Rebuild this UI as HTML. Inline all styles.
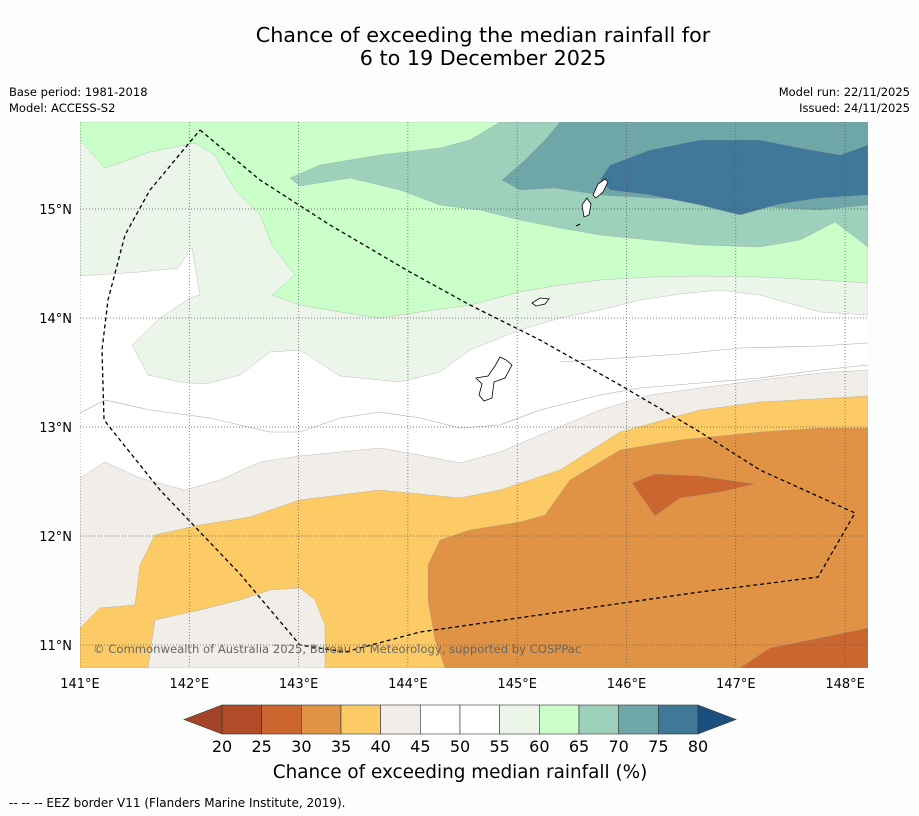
<!DOCTYPE html>
<html><head><meta charset="utf-8"><style>
body{margin:0;background:#fdfdfd;font-family:"DejaVu Sans","Liberation Sans",sans-serif;}
svg{display:block;font-family:"DejaVu Sans","Liberation Sans",sans-serif;}
</style></head><body>
<svg width="919" height="816" viewBox="0 0 919 816">
<rect width="919" height="816" fill="#fdfdfd"/>
<text x="483" y="42" text-anchor="middle" font-size="20.7" fill="#000">Chance of exceeding the median rainfall for</text>
<text x="483" y="65" text-anchor="middle" font-size="20.7" fill="#000">6 to 19 December 2025</text>
<text x="9" y="96" font-size="11.5">Base period: 1981-2018</text>
<text x="9" y="112" font-size="11.5">Model: ACCESS-S2</text>
<text x="910" y="96" font-size="11.5" text-anchor="end">Model run: 22/11/2025</text>
<text x="910" y="112" font-size="11.5" text-anchor="end">Issued: 24/11/2025</text>
<defs><clipPath id="mc"><rect x="80" y="122" width="788" height="546"/></clipPath></defs>
<g clip-path="url(#mc)">
<rect x="80" y="122" width="788" height="546" fill="#ffffff"/>
<polygon fill="#f1ede8" stroke="#999" stroke-width="0.3" points="80,478 105,462 140,478 185,490 220,480 260,462 300,456 340,452 380,448 420,455 460,463 500,452 540,435 600,410 650,395 700,388 760,380 820,373 868,370 868,668 80,668"/>
<polygon fill="#fdcb66" stroke="#999" stroke-width="0.3" points="80,628 100,608 135,605 140,565 155,535 200,525 250,517 300,500 380,490 460,498 500,490 560,470 620,432 700,410 760,402 868,396 868,668 325,668 325,625 315,600 300,588 270,590 240,600 200,610 155,620 148,668 80,668"/>
<polygon fill="#e09345" stroke="#999" stroke-width="0.3" points="440,540 470,530 520,522 545,515 570,480 620,450 680,440 760,432 820,428 868,428 868,628 820,638 770,650 740,668 445,668 435,640 428,600 428,565"/>
<polygon fill="#cb6631" stroke="#999" stroke-width="0.3" points="632,483 655,474 700,476 755,484 720,492 680,498 655,516"/>
<polygon fill="#cb6631" stroke="#999" stroke-width="0.3" points="740,668 770,648 820,638 868,628 868,668"/>
<polyline fill="none" stroke="#aaa" stroke-width="0.6" points="80,413 105,400 150,410 210,418 270,432 300,432 340,418 380,412 420,418 460,428 500,425 540,410 600,395 640,388 700,383 760,378 820,370 868,365"/>
<polyline fill="none" stroke="#aaa" stroke-width="0.6" points="560,362 620,358 680,354 740,348 820,346 868,343"/>
<polygon fill="#ebf5ea" stroke="#999" stroke-width="0.3" points="80,122 868,122 868,315 820,312 760,295 720,290 680,294 640,300 600,310 560,318 520,330 500,338 470,350 440,372 400,382 340,376 300,350 270,352 240,375 205,384 180,382 148,375 132,345 160,318 190,298 200,295 192,248 178,268 140,272 80,276"/>
<polygon fill="#caffca" stroke="#999" stroke-width="0.3" points="80,122 868,122 868,283 820,280 760,277 700,276 650,277 600,280 560,285 520,292 470,305 420,312 380,318 340,312 300,305 272,295 295,275 272,245 260,215 235,190 215,155 195,143 150,152 105,168 80,140"/>
<polygon fill="#9ed1bc" stroke="#999" stroke-width="0.3" points="500,122 868,122 868,247 835,222 800,240 760,247 700,245 650,240 600,235 560,228 520,220 480,210 440,205 400,190 350,178 300,186 290,178 320,165 380,155 440,148 470,140"/>
<polygon fill="#6fa6a8" stroke="#999" stroke-width="0.3" points="560,122 868,122 868,205 820,210 780,208 740,204 700,200 650,198 600,195 555,188 520,190 502,180 525,160 545,140"/>
<polygon fill="#3f7898" stroke="#999" stroke-width="0.3" points="610,165 650,150 700,140 760,140 800,148 840,155 868,145 868,195 820,198 780,204 740,215 700,205 650,195 610,190 600,180"/>
<g stroke="#555" stroke-width="0.7" stroke-dasharray="1,2" id="grid"></g>
<path d="M476,378 L488,376 L495,366 L500,357 L506,360 L512,365 L505,378 L494,382 L492,398 L484,401 L479,395 L482,384 Z" fill="#fff" stroke="#000" stroke-width="0.8"/>
<path d="M532,303 L540,298 L549,299 L545,304 L536,306 Z" fill="#fff" stroke="#000" stroke-width="0.8"/>
<path d="M582,205 L587,198 L591,204 L589,215 L584,217 Z" fill="#fff" stroke="#000" stroke-width="0.8"/>
<path d="M593,195 L598,184 L605,179 L608,182 L603,192 L596,198 Z" fill="#fff" stroke="#000" stroke-width="0.8"/>
<path d="M576,226 L580,224" stroke="#000" stroke-width="1"/>
<polyline fill="none" stroke="#000" stroke-width="1.3" stroke-dasharray="4,3" points="200,130 260,180 330,225 410,272 470,305 540,340 620,385 700,432 760,470 855,513 818,577 700,592 560,612 420,632 345,652 300,645 240,574 160,490 104,420 102,350 108,300 125,235 150,190 200,130"/>
<text x="93" y="653" font-size="11.6" fill="#666">© Commonwealth of Australia 2025, Bureau of Meteorology, supported by COSPPac</text>
</g>
<g id="axes" font-size="13" fill="#000"></g>
<g id="cbar"></g>
<text x="460" y="778" text-anchor="middle" font-size="18.4">Chance of exceeding median rainfall (%)</text>
<text x="9" y="807" font-size="12">--  --  -- EEZ border V11 (Flanders Marine Institute, 2019).</text>
</svg>
<script>
const lonTicks=[141,142,143,144,145,146,147,148];
const latTicks=[11,12,13,14,15];
const levels=[20,25,30,35,40,45,50,55,60,65,70,75,80];
const bandColors=["#b24b28","#cb6631","#e09345","#fdcb66","#f1ede8","#ffffff","#ffffff","#ebf5ea","#caffca","#9ed1bc","#6fa6a8","#3f7898"];
const underColor="#a3432a",overColor="#1a4f80";
const NS="http://www.w3.org/2000/svg";
const xLon=l=>80+(l-141)*109.3;
const yLat=l=>209+(15-l)*109;
function mk(t,a,p){const e=document.createElementNS(NS,t);for(const k in a)e.setAttribute(k,a[k]);p.appendChild(e);return e;}
const grid=document.getElementById('grid'),axes=document.getElementById('axes'),cb=document.getElementById('cbar');
lonTicks.forEach(l=>{
 const ln=mk('line',{x1:xLon(l),x2:xLon(l),y1:122,y2:668},grid);
 
 
 const t=mk('text',{x:xLon(l),y:688,'text-anchor':'middle'},axes);t.textContent=l+'°E';
 
 
});
latTicks.forEach(l=>{
 const ln=mk('line',{x1:80,x2:868,y1:yLat(l),y2:yLat(l)},grid);
 
 
 const t=mk('text',{x:72,y:yLat(l)+5,'text-anchor':'end'},axes);t.textContent=l+'°N';
 
 
});
const cx0=222,cx1=698,cy=705,ch=29;
const cw=(cx1-cx0)/bandColors.length;
bandColors.forEach((c,i)=>{
 const r=mk('rect',{x:cx0+i*cw,y:cy,width:cw,height:ch,fill:c,stroke:'#333','stroke-width':0.6},cb);
 
 
});
const tl=mk('polygon',{points:`${cx0},${cy} 184,${cy+ch/2} ${cx0},${cy+ch}`,fill:underColor,stroke:'#333','stroke-width':0.6},cb);


const tr=mk('polygon',{points:`${cx1},${cy} 736,${cy+ch/2} ${cx1},${cy+ch}`,fill:overColor,stroke:'#333','stroke-width':0.6},cb);


levels.forEach((v,i)=>{
 const t=mk('text',{x:cx0+i*cw,y:752,'text-anchor':'middle','font-size':16},cb);t.textContent=v;
 
 
});
</script>
</body></html>
